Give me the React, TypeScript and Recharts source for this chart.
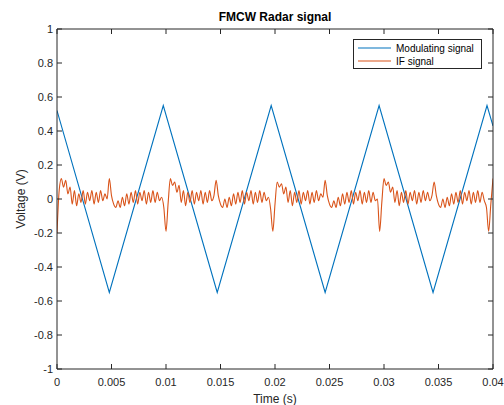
import React from 'react';
import { LineChart, Line, XAxis, YAxis, Legend } from 'recharts';

const xTicks = [0, 0.005, 0.01, 0.015, 0.02, 0.025, 0.03, 0.035, 0.04];
const yTicks = [-1, -0.8, -0.6, -0.4, -0.2, 0, 0.2, 0.4, 0.6, 0.8, 1];

const seriesNames = ['Modulating signal', 'IF signal'];

const modTimes = [0, 0.0048, 0.00975, 0.0147, 0.01965, 0.0246, 0.02955, 0.0345, 0.03945, 0.04];
const modValues = [0.52, -0.55, 0.55, -0.55, 0.55, -0.55, 0.55, -0.55, 0.55, 0.43];

const ifStart = 0;
const ifStep = 0.0002;
const ifValues = [
  -0.2, 0.05, 0.12, 0.07, 0.11, 0.03, 0.07, -0.03, 0.05, -0.04,
  0.03, -0.02, 0.05, -0.03, 0.04, -0.01, 0.05, -0.03, 0.04, -0.02,
  0.05, -0.01, 0.03, 0.0, 0.12, 0.02, -0.03, -0.05, -0.01, -0.05,
  0.01, -0.04, 0.03, -0.03, 0.04, -0.02, 0.05, -0.03, 0.04, -0.01,
  0.05, -0.03, 0.04, -0.02, 0.05, -0.02, 0.04, -0.01, 0.01, -0.05,
  -0.19, -0.02, 0.12, 0.08, 0.1, 0.04, 0.08, -0.02, 0.05, -0.04,
  0.04, -0.02, 0.05, -0.03, 0.04, -0.01, 0.05, -0.03, 0.04, -0.02,
  0.05, -0.01, 0.02, 0.11, 0.02, -0.03, -0.05, 0.0, -0.05, 0.01,
  -0.04, 0.03, -0.03, 0.04, -0.02, 0.05, -0.03, 0.04, -0.01, 0.05,
  -0.03, 0.04, -0.02, 0.05, -0.02, 0.04, -0.01, 0.01, -0.06, -0.19,
  -0.03, 0.1, 0.07, 0.09, 0.03, 0.07, -0.02, 0.05, -0.04, 0.04,
  -0.02, 0.05, -0.03, 0.04, -0.01, 0.05, -0.03, 0.04, -0.02, 0.05,
  -0.01, 0.03, 0.01, 0.11, 0.02, -0.03, -0.05, -0.01, -0.05, 0.01,
  -0.04, 0.03, -0.03, 0.04, -0.02, 0.05, -0.03, 0.04, -0.01, 0.05,
  -0.03, 0.04, -0.02, 0.05, -0.02, 0.04, -0.01, 0.0, -0.19, -0.02,
  0.12, 0.08, 0.1, 0.04, 0.07, -0.02, 0.05, -0.04, 0.04, -0.02,
  0.05, -0.03, 0.04, -0.01, 0.05, -0.03, 0.04, -0.02, 0.05, -0.01,
  0.04, -0.01, 0.02, 0.1, 0.02, -0.03, -0.05, 0.0, -0.05, 0.01,
  -0.04, 0.03, -0.03, 0.04, -0.02, 0.05, -0.03, 0.04, -0.01, 0.05,
  -0.03, 0.04, -0.02, 0.05, -0.02, 0.04, -0.01, -0.05, -0.19, -0.03,
  0.12,
];

const modData = modTimes.map((t, i) => ({ t, v: modValues[i] }));
const ifData = ifValues.map((v, i) => ({ t: ifStart + i * ifStep, v }));

const FONT = '"Liberation Sans", Arial, Helvetica, sans-serif';
const AXIS = '#262626';
const BLUE = '#0072BD';
const ORANGE = '#D95319';

const LegendBox = (props: any) => {
  const payload = [...(props.payload || [])].sort(
    (a: any, b: any) => seriesNames.indexOf(a.value) - seriesNames.indexOf(b.value)
  );
  return (
    <svg width={129} height={30} style={{ display: 'block' }}>
      <rect x={0.5} y={0.5} width={128} height={29} fill="#fff" stroke={AXIS} strokeWidth={1} />
      {payload.map((p: any, i: number) => (
        <g key={i}>
          <line x1={5} x2={38} y1={9 + 13 * i} y2={9 + 13 * i} stroke={p.color} strokeWidth={1.2} />
          <text x={43} y={9 + 13 * i} dy="0.35em" fontSize={10} fill="#000" fontFamily={FONT}>
            {p.value}
          </text>
        </g>
      ))}
    </svg>
  );
};

const fmtY = (v: number) => String(Math.round(v * 10) / 10);
const fmtX = (v: number) => String(v);
const blank = () => '';

export default function App() {
  const tickStyle = { fontSize: 11, fill: AXIS, fontFamily: FONT };
  return (
    <div style={{ position: 'absolute', left: 0, top: 0, width: 504, height: 405, background: '#fff' }}>
      <LineChart width={504} height={405} margin={{ top: 0, right: 0, bottom: 0, left: 0 }} style={{ fontFamily: FONT }}>
        <XAxis
          xAxisId="bottom"
          type="number"
          dataKey="t"
          domain={[0, 0.04]}
          ticks={xTicks}
          interval={0}
          height={36}
          tickSize={-5}
          tickMargin={14}
          tickFormatter={fmtX}
          tick={tickStyle}
          stroke={AXIS}
          axisLine={{ stroke: AXIS }}
          tickLine={{ stroke: AXIS }}
          allowDataOverflow
          label={{ value: 'Time (s)', position: 'insideBottom', offset: 2, fontSize: 12, fill: AXIS, fontFamily: FONT }}
        />
        <XAxis
          xAxisId="top"
          orientation="top"
          type="number"
          dataKey="t"
          domain={[0, 0.04]}
          ticks={xTicks}
          interval={0}
          height={29}
          tickSize={-5}
          tickFormatter={blank}
          stroke={AXIS}
          axisLine={{ stroke: AXIS }}
          tickLine={{ stroke: AXIS }}
          allowDataOverflow
        />
        <YAxis
          yAxisId="left"
          type="number"
          domain={[-1, 1]}
          ticks={yTicks}
          interval={0}
          width={57}
          tickSize={-5}
          tickMargin={9}
          tickFormatter={fmtY}
          tick={tickStyle}
          stroke={AXIS}
          axisLine={{ stroke: AXIS }}
          tickLine={{ stroke: AXIS }}
          allowDataOverflow
          label={{
            value: 'Voltage (V)',
            angle: -90,
            position: 'insideLeft',
            offset: 21,
            fontSize: 12,
            fill: AXIS,
            fontFamily: FONT,
            style: { textAnchor: 'middle' },
          }}
        />
        <YAxis
          yAxisId="right"
          orientation="right"
          type="number"
          domain={[-1, 1]}
          ticks={yTicks}
          interval={0}
          width={11}
          tickSize={-5}
          tickFormatter={blank}
          stroke={AXIS}
          axisLine={{ stroke: AXIS }}
          tickLine={{ stroke: AXIS }}
          allowDataOverflow
        />
        <Legend
          layout="horizontal"
          align="center"
          verticalAlign="middle"
          content={LegendBox}
          wrapperStyle={{ left: 353, top: 39, width: 129, height: 30 }}
        />
        <Line
          xAxisId="bottom"
          yAxisId="left"
          data={modData}
          dataKey="v"
          name="Modulating signal"
          stroke={BLUE}
          strokeWidth={1.1}
          dot={false}
          activeDot={false}
          type="linear"
          isAnimationActive={false}
        />
        <Line
          xAxisId="bottom"
          yAxisId="left"
          data={ifData}
          dataKey="v"
          name="IF signal"
          stroke={ORANGE}
          strokeWidth={1.1}
          dot={false}
          activeDot={false}
          type="monotone"
          isAnimationActive={false}
        />
      </LineChart>
      <div
        style={{
          position: 'absolute',
          left: 57,
          top: 10,
          width: 436,
          textAlign: 'center',
          fontFamily: FONT,
          fontWeight: 'bold',
          fontSize: 12,
          lineHeight: '15px',
          color: '#000',
        }}
      >
        FMCW Radar signal
      </div>
    </div>
  );
}
